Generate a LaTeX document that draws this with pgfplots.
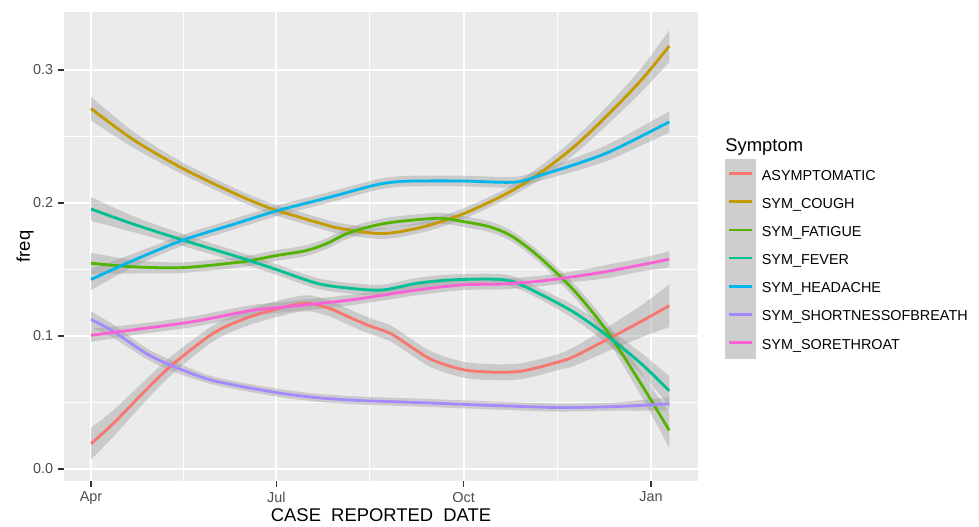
\documentclass[border=0pt]{standalone}
\usepackage{fontspec}
\setmainfont{Liberation Sans}
\usepackage{pgfplots}
\pgfplotsset{compat=1.18}
\usepackage{pgfplotstable}
\usepgfplotslibrary{fillbetween}

\definecolor{panelbg}{HTML}{EBEBEB}
\definecolor{bandgray}{HTML}{999999}
\definecolor{keygray}{HTML}{CECECE}
\definecolor{gray20}{HTML}{333333}
\definecolor{gray30}{HTML}{4D4D4D}
\definecolor{cAsym}{HTML}{F8766D}
\definecolor{cCough}{HTML}{C49A00}
\definecolor{cFat}{HTML}{53B400}
\definecolor{cFev}{HTML}{00C094}
\definecolor{cHead}{HTML}{00B6EB}
\definecolor{cShort}{HTML}{A58AFF}
\definecolor{cSore}{HTML}{FB61D7}

% x = days since 1 April
\pgfplotstableread{
x y se
0 0.0190 0.012
11 0.0343 0.010
27 0.0594 0.008
40 0.0785 0.007
60 0.1020 0.006
76 0.1133 0.006
93 0.1210 0.006
106 0.1246 0.006
117 0.1208 0.006
127 0.1140 0.006
137 0.1075 0.006
147 0.1020 0.006
157 0.0920 0.006
166 0.0832 0.006
176 0.0774 0.006
186 0.0739 0.006
201 0.0727 0.006
211 0.0735 0.006
220 0.0765 0.006
230 0.0807 0.006
237 0.0844 0.007
253 0.0970 0.009
270 0.1108 0.012
284 0.1228 0.016
}\tAsym

\pgfplotstableread{
x y se
0 0.2710 0.009
21 0.2474 0.006
45 0.2260 0.0045
70 0.2075 0.004
83 0.1990 0.004
91 0.1945 0.004
112 0.1850 0.004
122 0.1810 0.004
143 0.1770 0.004
163 0.1820 0.004
183 0.1920 0.004
204 0.2070 0.004
220 0.2220 0.005
237 0.2420 0.006
253 0.2650 0.007
270 0.2920 0.009
284 0.3180 0.012
}\tCough

\pgfplotstableread{
x y se
0 0.1547 0.008
21 0.1520 0.005
45 0.1514 0.004
70 0.1550 0.004
78 0.1566 0.004
91 0.1605 0.004
105 0.1640 0.004
115 0.1690 0.004
125 0.1765 0.004
135 0.1815 0.004
145 0.1848 0.004
155 0.1867 0.004
171 0.1885 0.004
183 0.1860 0.004
196 0.1820 0.004
207 0.1747 0.004
220 0.1596 0.004
237 0.1346 0.005
253 0.1045 0.006
270 0.0644 0.009
284 0.0290 0.013
}\tFat

\pgfplotstableread{
x y se
0 0.1955 0.009
21 0.1840 0.006
45 0.1722 0.0045
70 0.1605 0.004
78 0.1566 0.004
91 0.1500 0.004
111 0.1396 0.004
127 0.1359 0.004
143 0.1346 0.004
160 0.1396 0.004
176 0.1421 0.004
196 0.1428 0.004
207 0.1410 0.004
220 0.1320 0.004
237 0.1180 0.005
253 0.1008 0.006
270 0.0795 0.008
284 0.0588 0.011
}\tFev

\pgfplotstableread{
x y se
0 0.1425 0.008
21 0.1570 0.005
45 0.1720 0.004
70 0.1840 0.004
91 0.1940 0.004
112 0.2023 0.004
122 0.2063 0.004
132 0.2105 0.004
142 0.2143 0.004
152 0.2162 0.004
165 0.2166 0.004
183 0.2165 0.004
204 0.2155 0.004
212 0.2165 0.004
220 0.2205 0.004
237 0.2286 0.005
253 0.2374 0.006
270 0.2500 0.007
284 0.2610 0.008
}\tHead

\pgfplotstableread{
x y se
0 0.1125 0.006
11 0.1035 0.005
27 0.0870 0.004
40 0.0775 0.004
60 0.0665 0.003
91 0.0575 0.003
112 0.0535 0.003
132 0.0515 0.003
160 0.0500 0.003
183 0.0486 0.003
204 0.0474 0.003
230 0.0462 0.003
255 0.0468 0.003
270 0.0478 0.004
284 0.0490 0.005
}\tShort

\pgfplotstableread{
x y se
0 0.1005 0.005
21 0.1047 0.004
50 0.1108 0.004
78 0.1190 0.004
93 0.1215 0.004
127 0.1270 0.004
160 0.1346 0.004
183 0.1385 0.004
201 0.1390 0.004
220 0.1412 0.004
237 0.1446 0.004
253 0.1484 0.005
270 0.1534 0.005
284 0.1577 0.006
}\tSore

\newcommand{\band}[2]{%
  \addplot[draw=none, smooth, forget plot, name path=up#2] table[x=x, y expr=\thisrow{y}+\thisrow{se}] {#1};
  \addplot[draw=none, smooth, forget plot, name path=lo#2] table[x=x, y expr=\thisrow{y}-\thisrow{se}] {#1};
  \addplot[fill=bandgray, fill opacity=0.4, draw=none, forget plot] fill between[of=up#2 and lo#2];
}

\begin{document}
\begin{tikzpicture}
\begin{axis}[
  at={(32pt,22.5pt)}, anchor=south west,
  scale only axis, width=317pt, height=234.5pt,
  xmin=-13.26, xmax=298.1, ymin=-0.00902, ymax=0.3436,
  axis background/.style={fill=panelbg},
  axis line style={draw=none},
  xtick={0,91,183,275}, xticklabels={Apr,Jul,Oct,Jan},
  minor xtick={45.5,137,229},
  ytick={0,0.1,0.2,0.3}, minor ytick={0.05,0.15,0.25},
  y tick label style={/pgf/number format/fixed, /pgf/number format/fixed zerofill, /pgf/number format/precision=1},
  /pgf/number format/assume math mode=true,
  grid=both,
  major grid style={white, line width=1.0pt},
  minor grid style={white, line width=0.5pt},
  tick align=outside, tick pos=left,
  major tick length=3pt, minor tick length=0pt,
  major tick style={gray20, line width=0.6pt},
  ticklabel style={font=\fontsize{7.2}{8}\selectfont, text=gray30},
  xticklabel style={inner sep=0pt, anchor=north, yshift=-2.3pt},
  yticklabel style={inner sep=0pt, anchor=east, xshift=-2.2pt},
  xlabel={CASE\ \ REPORTED\ \ DATE},
  ylabel={freq},
  label style={font=\fontsize{9.2}{10}\selectfont},
  xlabel style={at={(axis description cs:0.5,-0.0725)}, anchor=center},
  ylabel style={at={(axis description cs:-0.0615,0.5)}, anchor=center},
  legend style={at={(1.0426,0.6865)}, anchor=north west, draw=none, fill=none,
    inner sep=0pt, outer sep=0pt, row sep=-1.33pt, column sep=3pt,
    font=\fontsize{7.2}{8}\selectfont, nodes={inner sep=0pt}},
  legend cell align=left,
  legend image code/.code={%
    \fill[keygray] (0pt,-5.9pt) rectangle (14pt,8.1pt);
    \draw[#1, line width=1.4pt] (1.35pt,1.5pt) -- (12.85pt,1.5pt);},
]
\band{\tAsym}{a}
\band{\tCough}{b}
\band{\tFat}{c}
\band{\tFev}{d}
\band{\tHead}{e}
\band{\tShort}{f}
\band{\tSore}{g}

\addplot[cAsym, smooth, line width=1.4pt] table[x=x,y=y] {\tAsym};
\addlegendentry{ASYMPTOMATIC}
\addplot[cCough, smooth, line width=1.4pt] table[x=x,y=y] {\tCough};
\addlegendentry{SYM\_COUGH}
\addplot[cFat, smooth, line width=1.4pt] table[x=x,y=y] {\tFat};
\addlegendentry{SYM\_FATIGUE}
\addplot[cFev, smooth, line width=1.4pt] table[x=x,y=y] {\tFev};
\addlegendentry{SYM\_FEVER}
\addplot[cHead, smooth, line width=1.4pt] table[x=x,y=y] {\tHead};
\addlegendentry{SYM\_HEADACHE}
\addplot[cShort, smooth, line width=1.4pt] table[x=x,y=y] {\tShort};
\addlegendentry{SYM\_SHORTNESSOFBREATH}
\addplot[cSore, smooth, line width=1.4pt] table[x=x,y=y] {\tSore};
\addlegendentry{SYM\_SORETHROAT}
\end{axis}
\node[anchor=west, inner sep=0pt, font=\fontsize{9.2}{10}\selectfont] at (362.5pt,189.5pt) {Symptom};
\pgfresetboundingbox
\useasboundingbox (0pt,0pt) rectangle (489.5pt,263pt);
\end{tikzpicture}
\end{document}
